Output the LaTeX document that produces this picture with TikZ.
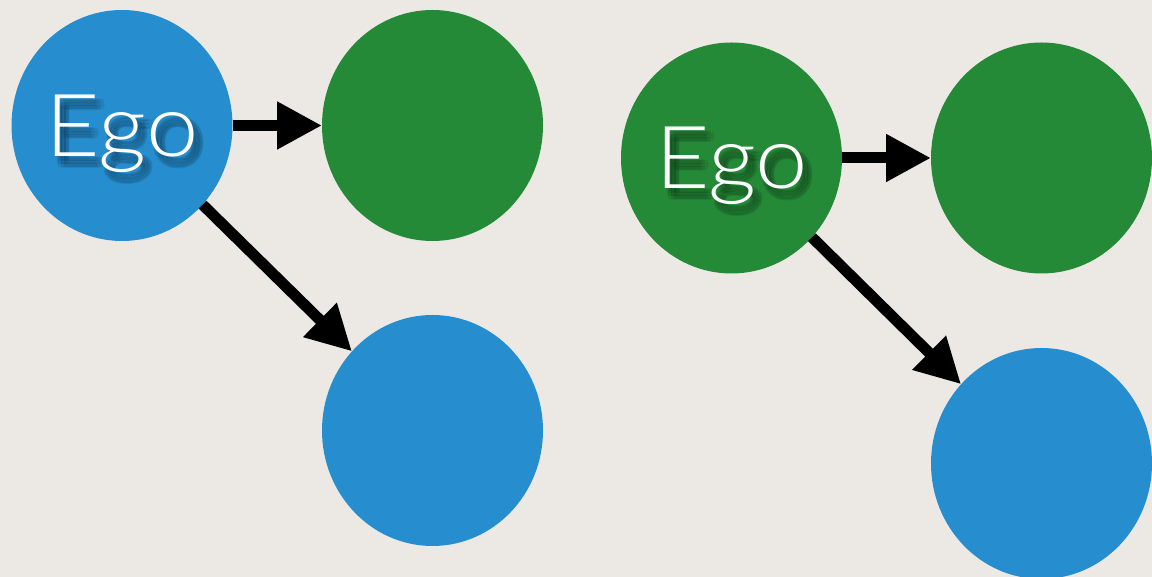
\documentclass[tikz,border=0pt]{standalone}
\usepackage{fontspec}
\newfontfamily\egofont{Lato Light}[FakeStretch=1.08]
\usetikzlibrary{arrows.meta,shapes.geometric}
\definecolor{paper}{RGB}{236,233,229}
\definecolor{egoblue}{RGB}{38,142,207}
\definecolor{egogreen}{RGB}{37,138,56}
\tikzset{
net/.style = { x = 1pt, y = 1pt, line width = 11pt, > = {Triangle[length=45pt,width=45pt]} },
person/.style = { ellipse, minimum width = 221pt, minimum height = 231pt, inner sep = 0pt, outer sep = 0pt },
bluenode/.style = { person, fill = egoblue },
greennode/.style = { person, fill = egogreen },
egotext/.style = { font = \egofont\fontsize{87}{87}\selectfont, text height = 62pt, text depth = 0pt, inner sep = 0pt },
% soft drop shadow behind the label, drawn before the text itself
ego/.style = { egotext, text = white, path picture = {
  \foreach \dx/\dy in {0/0,4/0,-4/0,0/4,0/-4,3/3,-3/3,3/-3,-3/-3}
    \node[egotext, text = black, opacity = 0.08] at ([shift={(6+\dx,-8+\dy)}]path picture bounding box.center) {Ego};
} }
}

\begin{document}
\begin{tikzpicture}[net]
	\useasboundingbox (0,0) rectangle (1152,577);
	\fill[paper] (0,0) rectangle (1152,577);

	% left: blue ego
	\node[bluenode, ego] (egoL) at (122,451.5) {Ego};
	\node[greennode] (greenL) at (432.5,451.5) {};
	\node[bluenode] (blueL) at (432.5,146.5) {};
	\draw[->] (egoL) -- (greenL);
	\draw[->] (egoL) -- (blueL);

	% right: green ego
	\node[greennode, ego] (egoR) at (731.5,419) {Ego};
	\node[greennode] (greenR) at (1041.5,419) {};
	\node[bluenode] (blueR) at (1041.5,113.5) {};
	\draw[->] (egoR) -- (greenR);
	\draw[->] (egoR) -- (blueR);
\end{tikzpicture}
\end{document}
